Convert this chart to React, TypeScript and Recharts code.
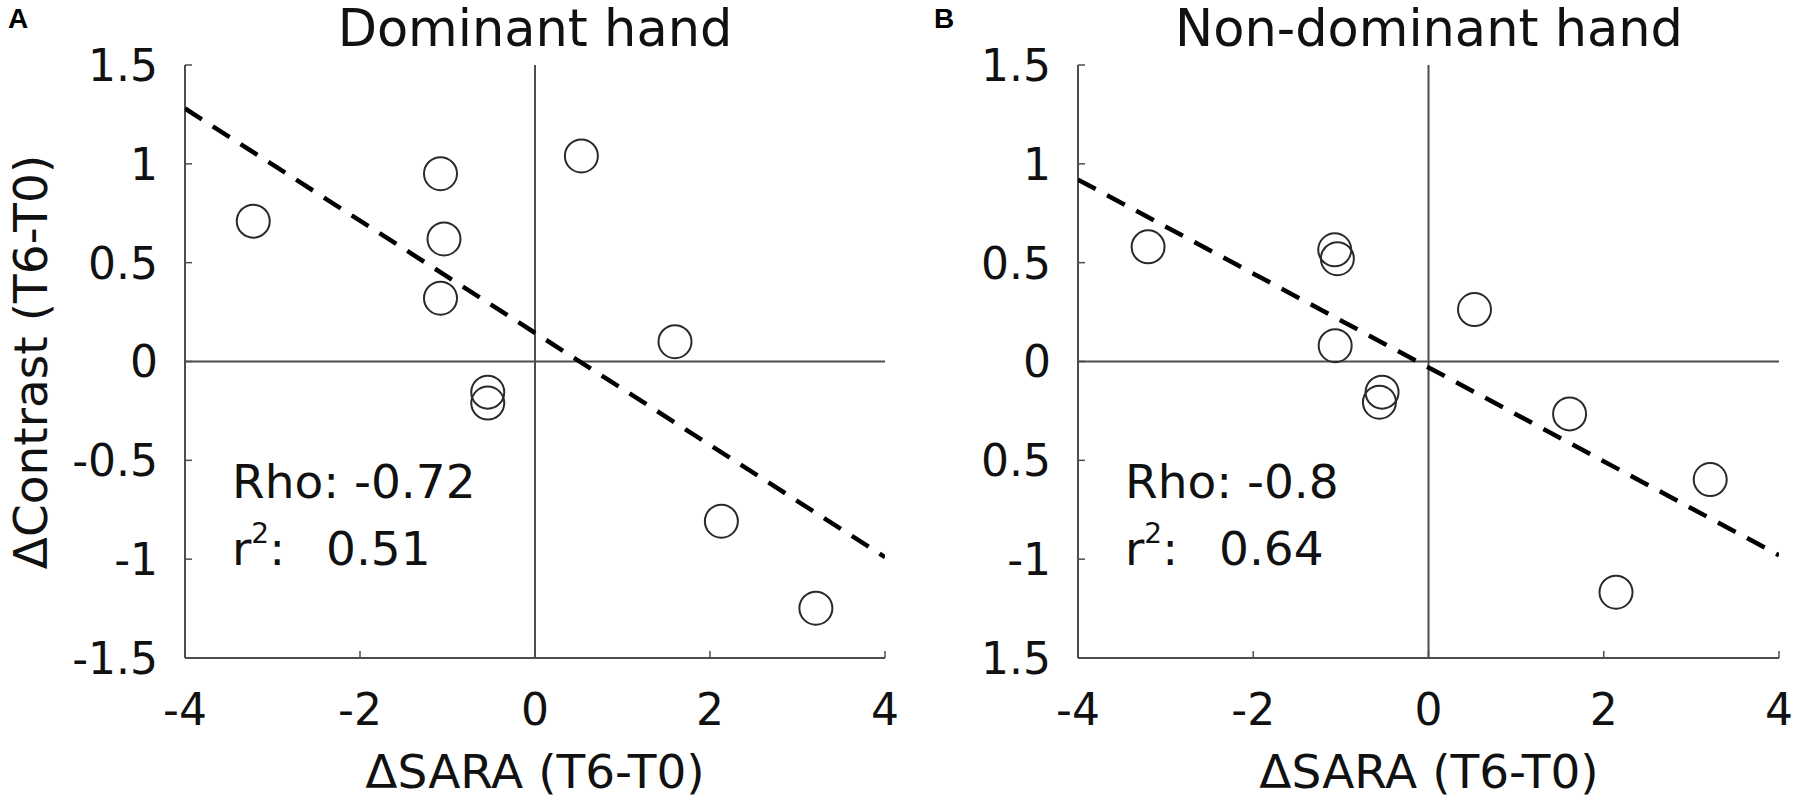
import { ScatterChart, Scatter, XAxis, YAxis, ReferenceLine } from "recharts";

document.body.style.margin = "0";

// axis ticks and their printed labels (panel B's labels are printed as in the source figure)
const xTicks = [-4, -2, 0, 2, 4];
const xTickLabels = ["-4", "-2", "0", "2", "4"];
const yTicks = [-1.5, -1, -0.5, 0, 0.5, 1, 1.5];
const yTickLabelsA = ["-1.5", "-1", "-0.5", "0", "0.5", "1", "1.5"];
const yTickLabelsB = ["1.5", "-1", "0.5", "0", "0.5", "1", "1.5"];

// dominant hand
const dominantSara = [-3.22, -1.08, -1.04, -1.08, 0.53, 1.6, -0.54, -0.54, 2.13, 3.21];
const dominantContrast = [0.71, 0.95, 0.62, 0.32, 1.04, 0.1, -0.155, -0.21, -0.808, -1.248];

// non-dominant hand
const nonDominantSara = [-3.2, -1.07, -1.04, -1.065, 0.525, -0.53, -0.56, 1.61, 3.215, 2.14];
const nonDominantContrast = [0.58, 0.565, 0.52, 0.08, 0.263, -0.155, -0.206, -0.265, -0.597, -1.167];

// regression line end points
const fitSara = [-4, 4];
const dominantFit = [1.28, -0.99];
const nonDominantFit = [0.92, -0.98];

const FONT = "'DejaVu Sans', sans-serif";
const AXIS = "#4d4d4d";
const TEXT = "#111";

const toPoints = (xs: number[], ys: number[]) => xs.map((x, i) => ({ x, y: ys[i] }));

function Ring(props: any) {
  if (props.cx == null || props.cy == null) return <g />;
  return <circle cx={props.cx} cy={props.cy} r={16.5} fill="none" stroke="#2a2a2a" strokeWidth={2} />;
}

function BottomTick(props: any) {
  const { x, y, payload } = props;
  const label = xTickLabels[xTicks.indexOf(payload.value)];
  return (
    <g>
      <line x1={x} x2={x} y1={y} y2={y - 7} stroke={AXIS} strokeWidth={1.5} />
      <text x={x} y={y + 67} textAnchor="middle" fontSize={44} fontFamily={FONT} fill={TEXT}>
        {label}
      </text>
    </g>
  );
}

function TopTick(props: any) {
  const { x, y } = props;
  return <line x1={x} x2={x} y1={y} y2={y + 7} stroke={AXIS} strokeWidth={1.5} />;
}

function LeftTick(props: any) {
  const { x, y, payload, labels } = props;
  const label = labels[yTicks.indexOf(payload.value)];
  return (
    <g>
      <line x1={x} x2={x + 7} y1={y} y2={y} stroke={AXIS} strokeWidth={1.5} />
      <text x={x - 27} y={y} dy="0.36em" textAnchor="end" fontSize={44} fontFamily={FONT} fill={TEXT}>
        {label}
      </text>
    </g>
  );
}

function RightTick(props: any) {
  const { x, y } = props;
  return <line x1={x} x2={x - 7} y1={y} y2={y} stroke={AXIS} strokeWidth={1.5} />;
}

interface PanelProps {
  left: number;
  width: number;
  yAxisWidth: number;
  marginRight: number;
  points: { x: number; y: number }[];
  fit: number[];
  yLabels: string[];
}

function Panel({ left, width, yAxisWidth, marginRight, points, fit, yLabels }: PanelProps) {
  const fitPoints = toPoints(fitSara, fit);
  const axisLine = { stroke: AXIS, strokeWidth: 2 };
  return (
    <div style={{ position: "absolute", left, top: 0 }}>
      <ScatterChart width={width} height={802} margin={{ top: 65, right: marginRight, bottom: 0, left: 0 }}>
        <XAxis
          type="number"
          dataKey="x"
          domain={[-4, 4]}
          ticks={xTicks}
          allowDataOverflow
          height={144}
          tickSize={0}
          tickMargin={0}
          tickLine={false}
          axisLine={axisLine}
          tick={(p: any) => <BottomTick {...p} />}
          interval={0}
        />
        <XAxis
          xAxisId="top"
          orientation="top"
          type="number"
          domain={[-4, 4]}
          ticks={xTicks}
          allowDataOverflow
          height={0}
          tickSize={0}
          tickMargin={0}
          tickLine={false}
          axisLine={axisLine}
          tick={(p: any) => <TopTick {...p} />}
          interval={0}
        />
        <YAxis
          type="number"
          dataKey="y"
          domain={[-1.5, 1.5]}
          ticks={yTicks}
          allowDataOverflow
          width={yAxisWidth}
          tickSize={0}
          tickMargin={0}
          tickLine={false}
          axisLine={axisLine}
          tick={(p: any) => <LeftTick {...p} labels={yLabels} />}
          interval={0}
        />
        <YAxis
          yAxisId="right"
          orientation="right"
          type="number"
          domain={[-1.5, 1.5]}
          ticks={yTicks}
          allowDataOverflow
          width={0}
          tickSize={0}
          tickMargin={0}
          tickLine={false}
          axisLine={axisLine}
          tick={(p: any) => <RightTick {...p} />}
          interval={0}
        />
        <ReferenceLine x={0} stroke={AXIS} strokeWidth={2} />
        <ReferenceLine y={0} stroke={AXIS} strokeWidth={2} />
        <Scatter
          data={fitPoints}
          line={{ stroke: "#000", strokeWidth: 4.5, strokeDasharray: "20 13" }}
          shape={() => <g />}
          isAnimationActive={false}
        />
        <Scatter data={points} shape={<Ring />} isAnimationActive={false} />
      </ScatterChart>
    </div>
  );
}

function Stats({ x, rho, r2 }: { x: number; rho: string; r2: string }) {
  return (
    <g fontFamily={FONT} fill={TEXT} fontSize={47}>
      <text x={x} y={498}>{"Rho: " + rho}</text>
      <text x={x} y={565}>
        r
        <tspan dy={-22} fontSize={28}>2</tspan>
        <tspan dy={22}>:</tspan>
        <tspan x={x + 94}>{r2}</tspan>
      </text>
    </g>
  );
}

export default function App() {
  return (
    <div style={{ position: "relative", width: 1799, height: 802, background: "#fff", overflow: "hidden" }}>
      <Panel
        left={0}
        width={900}
        yAxisWidth={185}
        marginRight={15}
        points={toPoints(dominantSara, dominantContrast)}
        fit={dominantFit}
        yLabels={yTickLabelsA}
      />
      <Panel
        left={900}
        width={899}
        yAxisWidth={178}
        marginRight={20}
        points={toPoints(nonDominantSara, nonDominantContrast)}
        fit={nonDominantFit}
        yLabels={yTickLabelsB}
      />
      <svg width={1799} height={802} style={{ position: "absolute", left: 0, top: 0, pointerEvents: "none" }}>
        <text x={8} y={28} fontFamily="'Liberation Sans', Arial, sans-serif" fontWeight="bold" fontSize={28} fill="#000">A</text>
        <text x={934} y={28} fontFamily="'Liberation Sans', Arial, sans-serif" fontWeight="bold" fontSize={28} fill="#000">B</text>
        <text x={535} y={46} textAnchor="middle" fontFamily={FONT} fontSize={51} fill={TEXT}>Dominant hand</text>
        <text x={1429} y={46} textAnchor="middle" fontFamily={FONT} fontSize={51} fill={TEXT}>Non-dominant hand</text>
        <text x={535} y={788} textAnchor="middle" fontFamily={FONT} fontSize={47} fill={TEXT}>ΔSARA (T6-T0)</text>
        <text x={1429} y={788} textAnchor="middle" fontFamily={FONT} fontSize={47} fill={TEXT}>ΔSARA (T6-T0)</text>
        <text
          transform="translate(47, 362) rotate(-90)"
          textAnchor="middle"
          fontFamily={FONT}
          fontSize={47}
          fill={TEXT}
        >
          ΔContrast (T6-T0)
        </text>
        <Stats x={232} rho="-0.72" r2="0.51" />
        <Stats x={1125} rho="-0.8" r2="0.64" />
      </svg>
    </div>
  );
}
